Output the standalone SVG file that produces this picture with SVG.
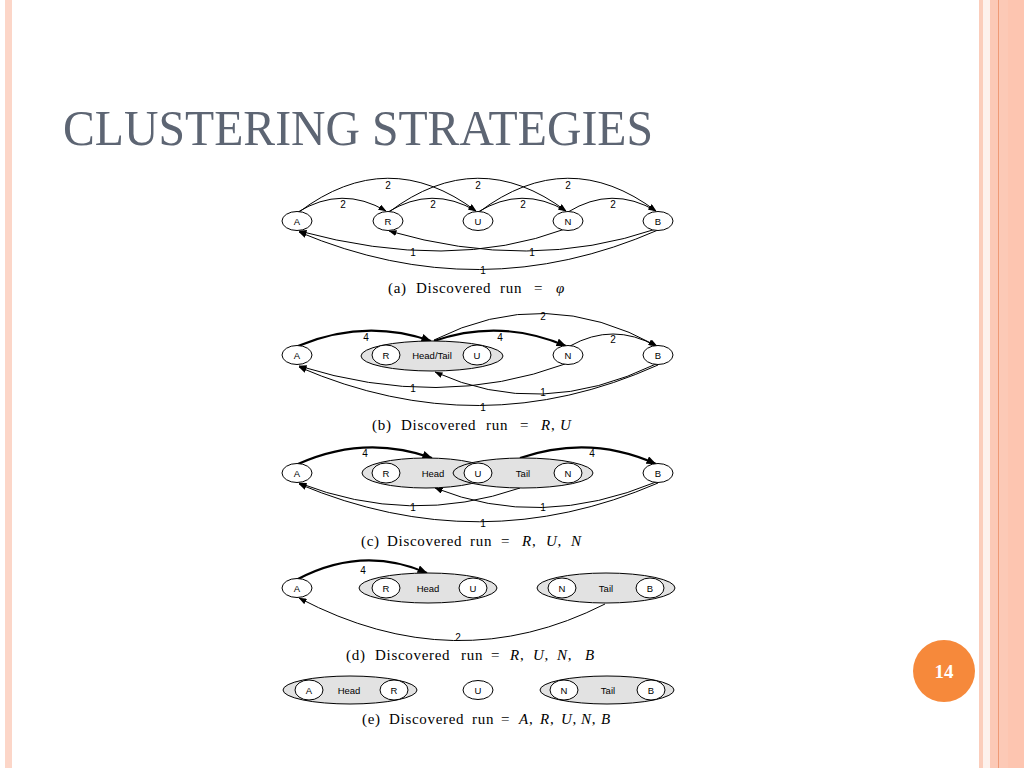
<svg xmlns="http://www.w3.org/2000/svg" width="1024" height="768" viewBox="0 0 1024 768">
<defs>
<marker id="ah" markerUnits="userSpaceOnUse" markerWidth="8" markerHeight="6" refX="7.5" refY="3" orient="auto"><path d="M0,0 L8,3 L0,6 z" fill="#000"/></marker>
<marker id="ahb" markerUnits="userSpaceOnUse" markerWidth="10" markerHeight="8" refX="9.5" refY="4" orient="auto"><path d="M0,0 L10,4 L0,8 z" fill="#000"/></marker>
</defs>
<style>
.n{fill:#fff;stroke:#000;stroke-width:1}
.cl{fill:#e2e2e2;stroke:none}
.clo{fill:none;stroke:#000;stroke-width:1}
.t{font-family:"Liberation Sans",Arial,sans-serif;font-size:9.5px;text-anchor:middle;fill:#000}
.el{font-family:"Liberation Sans",Arial,sans-serif;font-size:10px;text-anchor:middle;fill:#000}
.e{fill:none;stroke:#000;stroke-width:1;marker-end:url(#ah)}
.eb{fill:none;stroke:#000;stroke-width:2.2;marker-end:url(#ahb)}
.cap{font-family:"Liberation Serif","DejaVu Serif","Times New Roman",serif;font-size:15px;letter-spacing:0.7px;fill:#000}
.it{font-style:italic}
</style>
<rect width="1024" height="768" fill="#fff"/>
<!-- slide borders -->
<rect x="5" y="0" width="7" height="768" fill="#fcd6c8"/>
<rect x="979" y="0" width="4" height="768" fill="#fbcdbb"/>
<rect x="983" y="0" width="7" height="768" fill="#fdf1ec"/>
<rect x="990" y="0" width="34" height="768" fill="#fcc9b6"/>
<rect x="1008" y="0" width="16" height="768" fill="#fdc5b0"/>
<line x1="998.5" y1="0" x2="998.5" y2="768" stroke="#ef9a76" stroke-width="1"/>
<text x="63" y="145" font-family="Liberation Serif, DejaVu Serif, Times New Roman, serif" font-size="50" fill="#5d6573" textLength="590" lengthAdjust="spacingAndGlyphs">CLUSTERING STRATEGIES</text>
<g id="page-number"><circle cx="944" cy="671" r="31" fill="#f6893b"/><text x="944" y="678" font-family="Liberation Serif, DejaVu Serif, serif" font-size="19" font-weight="bold" fill="#fff" text-anchor="middle">14</text></g>

<g id="connectors">
<!-- (a) -->
<path class="e" d="M298,212 Q342,185 386,211"/>
<path class="e" d="M388,212 Q432,185 476,211"/>
<path class="e" d="M478,212 Q522,185 566,211"/>
<path class="e" d="M568,212 Q612,185 656,211"/>
<path class="e" d="M299,212 Q388,145 476,211"/>
<path class="e" d="M389,212 Q478,145 566,211"/>
<path class="e" d="M479,212 Q568,145 656,211"/>
<path class="e" d="M565,229 Q450,272 299,231"/>
<path class="e" d="M656,229 Q530,272 389,231"/>
<path class="e" d="M658,230 Q480,308 299,232"/>
<!-- (b) -->
<path class="eb" d="M298,346 Q365,318 431,341"/>
<path class="eb" d="M434,341 Q500,318 566,346"/>
<path class="e" d="M434,340 Q545,284 657,346"/>
<path class="e" d="M570,346 Q613,322 656,346"/>
<path class="e" d="M565,364 Q440,410 299,366"/>
<path class="e" d="M656,364 Q540,420 435,372"/>
<path class="e" d="M658,365 Q480,445 299,367"/>
<!-- (c) -->
<path class="eb" d="M298,464 Q365,434 432,458"/>
<path class="eb" d="M520,458 Q590,434 656,464"/>
<path class="e" d="M520,488 Q410,526 299,483"/>
<path class="e" d="M656,482 Q540,530 435,488"/>
<path class="e" d="M658,483 Q480,560 299,484"/>
<!-- (d) -->
<path class="eb" d="M298,579 Q363,545 427,573"/>
<path class="e" d="M605,604 Q455,680 299,598"/>
</g>

<g id="edge-labels">
<text class="el" x="343" y="208">2</text>
<text class="el" x="433" y="208">2</text>
<text class="el" x="523" y="208">2</text>
<text class="el" x="613" y="208">2</text>
<text class="el" x="388" y="189">2</text>
<text class="el" x="478" y="189">2</text>
<text class="el" x="568" y="189">2</text>
<text class="el" x="413" y="256">1</text>
<text class="el" x="532" y="256">1</text>
<text class="el" x="483" y="274">1</text>
<text class="el" x="366" y="341">4</text>
<text class="el" x="500" y="341">4</text>
<text class="el" x="543" y="320">2</text>
<text class="el" x="613" y="343">2</text>
<text class="el" x="413" y="392">1</text>
<text class="el" x="543" y="396">1</text>
<text class="el" x="483" y="411">1</text>
<text class="el" x="365" y="457">4</text>
<text class="el" x="592" y="457">4</text>
<text class="el" x="413" y="511">1</text>
<text class="el" x="543" y="511">1</text>
<text class="el" x="483" y="527">1</text>
<text class="el" x="363" y="574">4</text>
<text class="el" x="458" y="641">2</text>
</g>

<!-- (a) nodes -->
<g id="a-A"><ellipse class="n" cx="297" cy="221" rx="15" ry="9.5"/><text class="t" x="297" y="224.5">A</text></g>
<g id="a-R"><ellipse class="n" cx="388" cy="221" rx="15" ry="9.5"/><text class="t" x="388" y="224.5">R</text></g>
<g id="a-U"><ellipse class="n" cx="478" cy="221" rx="15" ry="9.5"/><text class="t" x="478" y="224.5">U</text></g>
<g id="a-N"><ellipse class="n" cx="568" cy="221" rx="15" ry="9.5"/><text class="t" x="568" y="224.5">N</text></g>
<g id="a-B"><ellipse class="n" cx="658" cy="221" rx="15" ry="9.5"/><text class="t" x="658" y="224.5">B</text></g>
<text class="cap" y="293"><tspan x="388">(a)</tspan><tspan x="416">Discovered</tspan><tspan x="500">run</tspan><tspan x="534">=</tspan><tspan x="556" class="it">φ</tspan></text>

<!-- (b) nodes -->
<g id="b-A"><ellipse class="n" cx="297" cy="355" rx="15" ry="9.5"/><text class="t" x="297" y="358.5">A</text></g>
<g id="b-HT"><ellipse class="cl" cx="432" cy="356" rx="71" ry="15"/><ellipse class="clo" cx="432" cy="356" rx="71" ry="15"/>
<ellipse class="n" cx="386" cy="355" rx="14" ry="10"/><text class="t" x="386" y="358.5">R</text>
<text class="t" x="432" y="358.5">Head/Tail</text>
<ellipse class="n" cx="477" cy="355" rx="14" ry="10"/><text class="t" x="477" y="358.5">U</text></g>
<g id="b-N"><ellipse class="n" cx="568" cy="355" rx="15" ry="9.5"/><text class="t" x="568" y="358.5">N</text></g>
<g id="b-B"><ellipse class="n" cx="658" cy="355" rx="15" ry="9.5"/><text class="t" x="658" y="358.5">B</text></g>
<text class="cap" y="430"><tspan x="372">(b)</tspan><tspan x="401">Discovered</tspan><tspan x="486">run</tspan><tspan x="520">=</tspan><tspan x="541" class="it">R</tspan><tspan>,</tspan><tspan x="560" class="it">U</tspan></text>

<!-- (c) nodes -->
<g id="c-A"><ellipse class="n" cx="297" cy="473" rx="15" ry="9.5"/><text class="t" x="297" y="476.5">A</text></g>
<g id="c-clusters">
<ellipse class="cl" cx="426" cy="473" rx="64" ry="15"/><ellipse class="cl" cx="523" cy="473" rx="70" ry="15"/>
<ellipse class="clo" cx="426" cy="473" rx="64" ry="15"/><ellipse class="clo" cx="523" cy="473" rx="70" ry="15"/>
<ellipse class="n" cx="386" cy="473" rx="14" ry="10"/><text class="t" x="386" y="476.5">R</text>
<text class="t" x="433" y="476.5">Head</text>
<ellipse class="n" cx="478" cy="473" rx="14" ry="10"/><text class="t" x="478" y="476.5">U</text>
<text class="t" x="523" y="476.5">Tail</text>
<ellipse class="n" cx="568" cy="473" rx="14" ry="10"/><text class="t" x="568" y="476.5">N</text></g>
<g id="c-B"><ellipse class="n" cx="658" cy="473" rx="15" ry="9.5"/><text class="t" x="658" y="476.5">B</text></g>
<text class="cap" y="546"><tspan x="361">(c)</tspan><tspan x="387">Discovered</tspan><tspan x="470">run</tspan><tspan x="501">=</tspan><tspan x="522" class="it">R</tspan><tspan>,</tspan><tspan x="546" class="it">U</tspan><tspan>,</tspan><tspan x="571" class="it">N</tspan></text>

<!-- (d) nodes -->
<g id="d-A"><ellipse class="n" cx="297" cy="588" rx="15" ry="9.5"/><text class="t" x="297" y="591.5">A</text></g>
<g id="d-Head"><ellipse class="cl" cx="428" cy="588" rx="69" ry="15"/><ellipse class="clo" cx="428" cy="588" rx="69" ry="15"/>
<ellipse class="n" cx="386" cy="588" rx="14" ry="10"/><text class="t" x="386" y="591.5">R</text>
<text class="t" x="428" y="591.5">Head</text>
<ellipse class="n" cx="473" cy="588" rx="14" ry="10"/><text class="t" x="473" y="591.5">U</text></g>
<g id="d-Tail"><ellipse class="cl" cx="606" cy="588" rx="69" ry="15"/><ellipse class="clo" cx="606" cy="588" rx="69" ry="15"/>
<ellipse class="n" cx="562" cy="588" rx="14" ry="10"/><text class="t" x="562" y="591.5">N</text>
<text class="t" x="606" y="591.5">Tail</text>
<ellipse class="n" cx="650" cy="588" rx="14" ry="10"/><text class="t" x="650" y="591.5">B</text></g>
<text class="cap" y="660"><tspan x="346">(d)</tspan><tspan x="375">Discovered</tspan><tspan x="461">run</tspan><tspan x="491">=</tspan><tspan x="510" class="it">R</tspan><tspan>,</tspan><tspan x="533" class="it">U</tspan><tspan>,</tspan><tspan x="557" class="it">N</tspan><tspan>,</tspan><tspan x="585" class="it">B</tspan></text>

<!-- (e) nodes -->
<g id="e-Head"><ellipse class="cl" cx="350" cy="690" rx="67" ry="14"/><ellipse class="clo" cx="350" cy="690" rx="67" ry="14"/>
<ellipse class="n" cx="309" cy="690" rx="14" ry="10"/><text class="t" x="309" y="693.5">A</text>
<text class="t" x="349" y="693.5">Head</text>
<ellipse class="n" cx="394" cy="690" rx="14" ry="10"/><text class="t" x="394" y="693.5">R</text></g>
<g id="e-U"><ellipse class="n" cx="478" cy="690" rx="15" ry="9.5"/><text class="t" x="478" y="693.5">U</text></g>
<g id="e-Tail"><ellipse class="cl" cx="607" cy="690" rx="67" ry="14"/><ellipse class="clo" cx="607" cy="690" rx="67" ry="14"/>
<ellipse class="n" cx="564" cy="690" rx="14" ry="10"/><text class="t" x="564" y="693.5">N</text>
<text class="t" x="608" y="693.5">Tail</text>
<ellipse class="n" cx="651" cy="690" rx="14" ry="10"/><text class="t" x="651" y="693.5">B</text></g>
<text class="cap" y="724"><tspan x="362">(e)</tspan><tspan x="389">Discovered</tspan><tspan x="472">run</tspan><tspan x="501">=</tspan><tspan x="519" class="it">A</tspan><tspan>,</tspan><tspan x="540" class="it">R</tspan><tspan>,</tspan><tspan x="561" class="it">U</tspan><tspan>,</tspan><tspan x="581" class="it">N</tspan><tspan>,</tspan><tspan x="601" class="it">B</tspan></text>
</svg>
